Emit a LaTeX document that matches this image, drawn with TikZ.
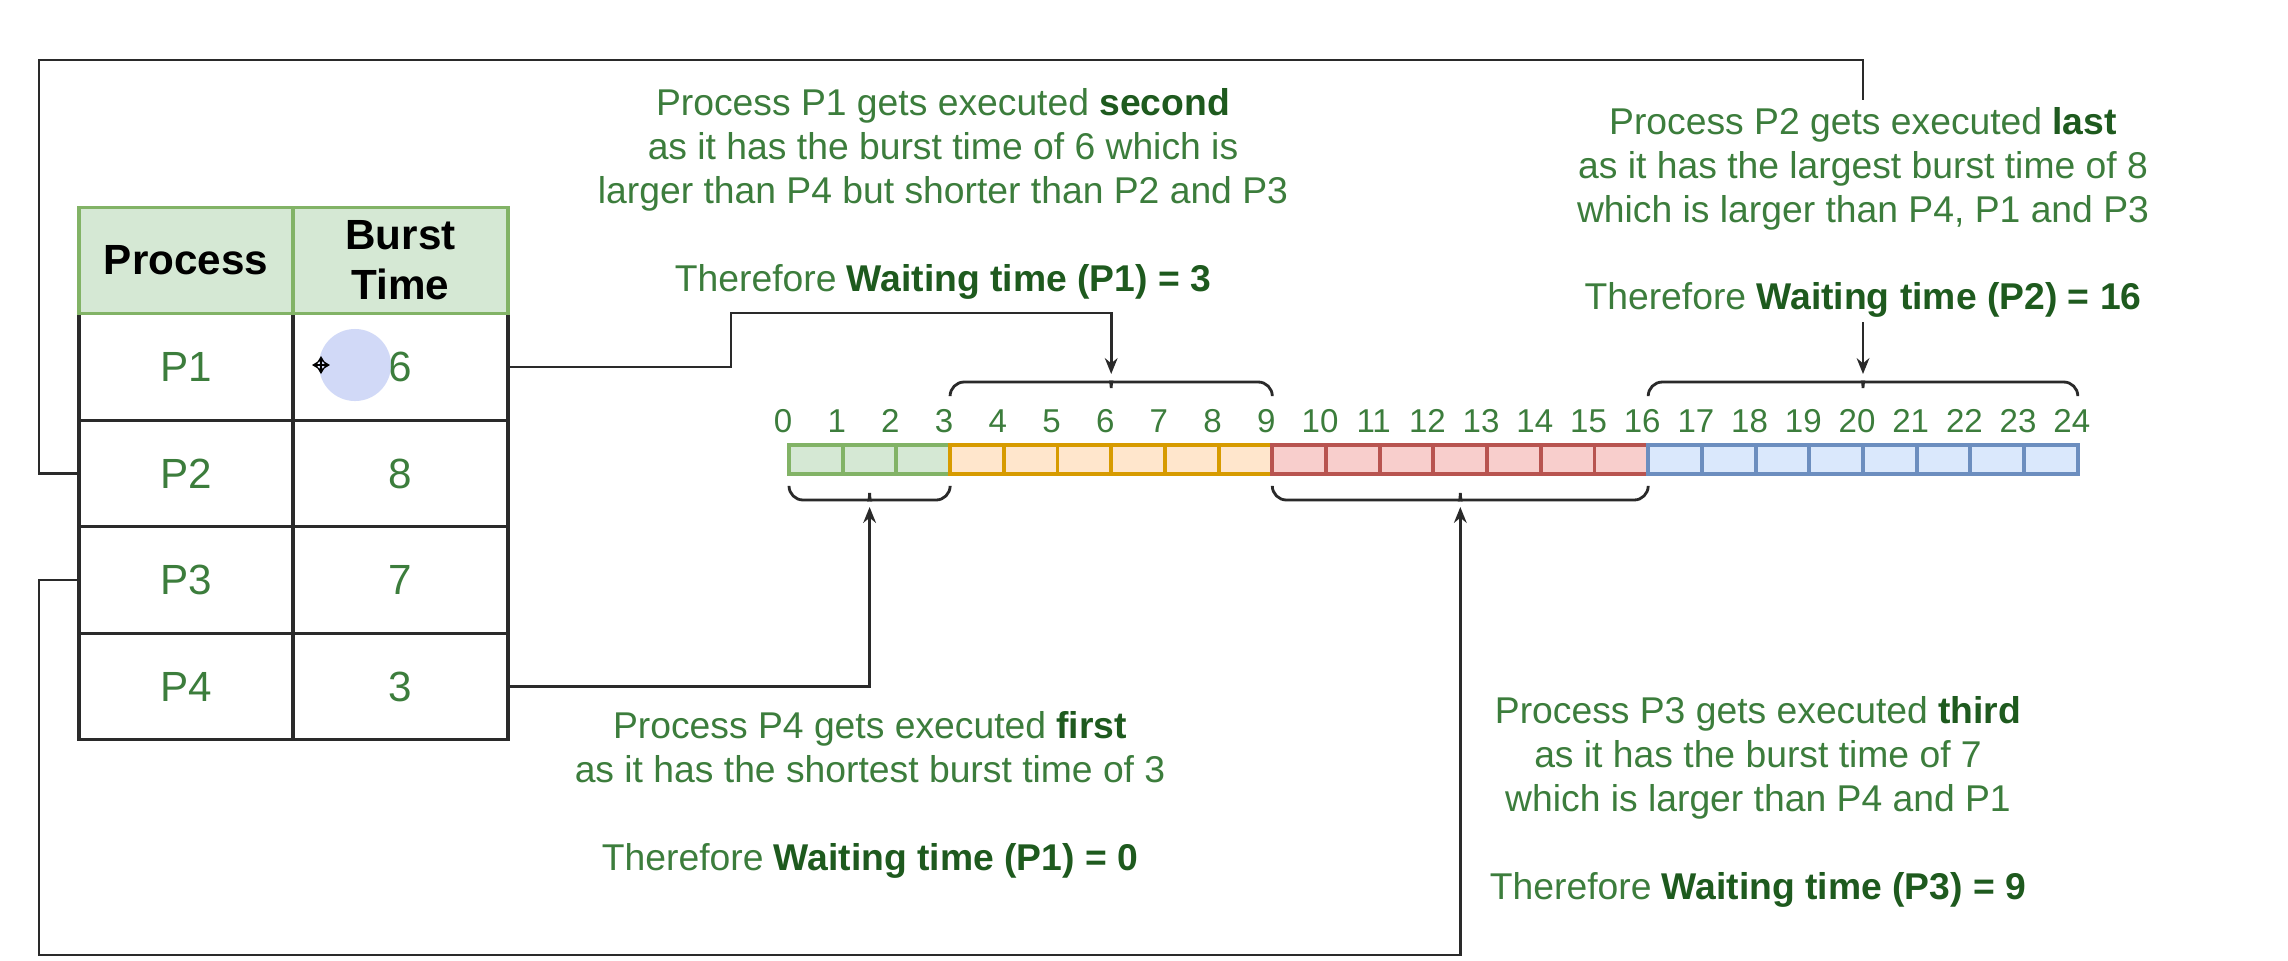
\documentclass[tikz,border=0pt]{standalone}
\usepackage{fontspec}
\setmainfont{Liberation Sans}
\usetikzlibrary{arrows.meta}
\definecolor{txt}{HTML}{3C7D3C}
\definecolor{txtb}{HTML}{1E5A1E}
\definecolor{hdrfill}{HTML}{D5E8D4}
\definecolor{hdrline}{HTML}{82B366}
\definecolor{gfillc}{HTML}{D5E8D4}
\definecolor{glinec}{HTML}{82B366}
\definecolor{ofillc}{HTML}{FFE6CC}
\definecolor{olinec}{HTML}{D79B00}
\definecolor{rfillc}{HTML}{F8CECC}
\definecolor{rlinec}{HTML}{B85450}
\definecolor{bfillc}{HTML}{DAE8FC}
\definecolor{blinec}{HTML}{6C8EBF}
\definecolor{linec}{HTML}{2A2A2A}
\definecolor{curfill}{HTML}{C9D3F6}
\newcommand\bgr[1]{\textbf{\textcolor{txtb}{#1}}}
\begin{document}
\begin{tikzpicture}[x=0.01cm,y=-0.01cm,
  cellb/.style={draw=linec, line width=0.9pt, minimum height=1.066cm, inner sep=0pt, outer sep=0pt,
    font=\fontsize{12}{14}\selectfont, text=txt},
  hdr/.style={cellb, fill=hdrfill, draw=hdrline, text=black, align=center,
    font=\bfseries\fontsize{12}{14.2}\selectfont},
  tcell/.style={line width=1.1pt, minimum width=0.537cm, minimum height=0.29cm, inner sep=0pt, outer sep=0pt},
  gc/.style={tcell, fill=gfillc, draw=glinec},
  oc/.style={tcell, fill=ofillc, draw=olinec},
  rc/.style={tcell, fill=rfillc, draw=rlinec},
  bc/.style={tcell, fill=bfillc, draw=blinec},
  num/.style={text=txt, inner sep=0pt, font=\fontsize{9.4}{10}\selectfont},
  ann/.style={align=center, text=txt, inner sep=0pt, font=\fontsize{10.6}{12.5}\selectfont},
  brc/.style={draw=linec, line width=0.8pt, rounded corners=4pt},
  conn/.style={draw=linec, line width=0.8pt},
  arr/.style={conn, -{Stealth[length=4.5pt,width=3.6pt]}}
]
\useasboundingbox (0,0) rectangle (2288,960);
\fill[white] (0,0) rectangle (2288,960);

% table body
\node[cellb, minimum width=2.14cm] (p1) at (186,367) {P1};
\node[cellb, minimum width=2.15cm] (c1) at (400.5,367) {6};
\node[cellb, minimum width=2.14cm] (p2) at (186,473.5) {P2};
\node[cellb, minimum width=2.15cm] (c2) at (400.5,473.5) {8};
\node[cellb, minimum width=2.14cm] (p3) at (186,580) {P3};
\node[cellb, minimum width=2.15cm] (c3) at (400.5,580) {7};
\node[cellb, minimum width=2.14cm] (p4) at (186,686.5) {P4};
\node[cellb, minimum width=2.15cm] (c4) at (400.5,686.5) {3};
% header
\node[hdr, minimum width=2.14cm] (h1) at (186,260.5) {Process};
\node[hdr, minimum width=2.15cm] (h2) at (400.5,260.5) {Burst\\Time};

% cursor artefact
\fill[curfill, opacity=0.85] (355,365) circle (0.36cm);
\draw[line width=0.6pt, {Stealth[length=2pt,width=2.4pt]}-{Stealth[length=2pt,width=2.4pt]}] (312,365) -- (330,365);
\draw[line width=0.6pt, {Stealth[length=2pt,width=2.4pt]}-{Stealth[length=2pt,width=2.4pt]}] (321,356) -- (321,374);

% timeline cells
\foreach \i in {0,1,2} \node[gc] (s\i) at ({789+53.7*\i+26.85},459.5) {};
\foreach \i in {3,...,8} \node[oc] (s\i) at ({789+53.7*\i+26.85},459.5) {};
\foreach \i in {9,...,15} \node[rc] (s\i) at ({789+53.7*\i+26.85},459.5) {};
\foreach \i in {16,...,23} \node[bc] (s\i) at ({789+53.7*\i+26.85},459.5) {};
\foreach \i in {0,...,24} \node[num] (n\i) at ({783+53.7*\i},421) {\i};

% braces
\coordinate (tipA) at (869.6,507);
\coordinate (tipB) at (1111.2,374);
\coordinate (tipC) at (1460.3,507);
\coordinate (tipD) at (1863,374);
\draw[brc] (789,487) -- (789,500) -- (860.6,500) .. controls (866.6,500) and (869.6,502) .. (tipA)
  .. controls (869.6,502) and (872.6,500) .. (878.6,500) -- (950.1,500) -- (950.1,487);
\draw[brc] (950.1,395) -- (950.1,382) -- (1102.2,382) .. controls (1108.2,382) and (1111.2,380) .. (tipB)
  .. controls (1111.2,380) and (1114.2,382) .. (1120.2,382) -- (1272.3,382) -- (1272.3,395);
\draw[brc] (1272.3,487) -- (1272.3,500) -- (1451.3,500) .. controls (1457.3,500) and (1460.3,502) .. (tipC)
  .. controls (1460.3,502) and (1463.3,500) .. (1469.3,500) -- (1648.2,500) -- (1648.2,487);
\draw[brc] (1648.2,395) -- (1648.2,382) -- (1854,382) .. controls (1860,382) and (1863,380) .. (tipD)
  .. controls (1863,380) and (1866,382) .. (1872,382) -- (2077.8,382) -- (2077.8,395);

% annotations
\node[ann] (t1) at (943,194) {Process P1 gets executed \bgr{second}\\as it has the burst time of 6 which is\\larger than P4 but shorter than P2 and P3\\[12.5pt]Therefore \bgr{Waiting time (P1) = 3}};
\node[ann] (t2) at (1863,212.5) {Process P2 gets executed \bgr{last}\\as it has the largest burst time of 8\\which is larger than P4, P1 and P3\\[12.5pt]Therefore \bgr{Waiting time (P2) = 16}};
\node[ann] (t4) at (870,795) {Process P4 gets executed \bgr{first}\\as it has the shortest burst time of 3\\[12.5pt]Therefore \bgr{Waiting time (P1) = 0}};
\node[ann] (t3) at (1758,802) {Process P3 gets executed \bgr{third}\\as it has the burst time of 7\\which is larger than P4 and P1\\[12.5pt]Therefore \bgr{Waiting time (P3) = 9}};

% connectors
\coordinate (k1) at (731,313);
\coordinate (k2) at (39,60);
\coordinate (k3) at (39,955);
\coordinate (t2n) at (1863,100);
\coordinate (t2s) at (1863,322);
\draw[arr] (c1.east) -| (k1) -| (tipB);
\draw[arr] (c4.east) -| (tipA);
\draw[conn] (p2.west) -| (k2) -| (t2n);
\draw[arr] (p3.west) -| (k3) -| (tipC);
\draw[arr] (t2s) -- (tipD);
\end{tikzpicture}
\end{document}
